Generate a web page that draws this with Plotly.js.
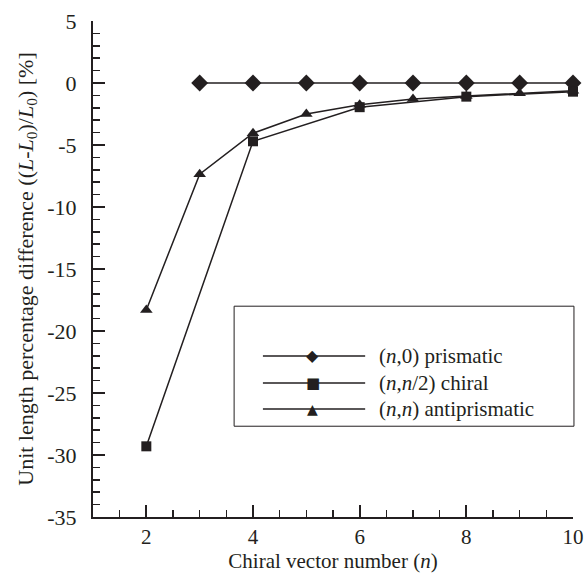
<!DOCTYPE html>
<html>
<head>
<meta charset="utf-8">
<script src="https://cdn.plot.ly/plotly-3.0.1.min.js"></script>
<style>html,body{margin:0;padding:0;background:#fff;}#chart{width:585px;height:573px;}</style>
</head>
<body>
<div id="chart"></div>
<script>
// Data
var prismaticN = [3, 4, 5, 6, 7, 8, 9, 10];
var prismaticY = [0, 0, 0, 0, 0, 0, 0, 0];
var chiralN = [2, 4, 6, 8, 10];
var chiralY = [-29.3, -4.7, -1.95, -1.1, -0.7];
var antiN = [2, 3, 4, 5, 6, 7, 8, 9, 10];
var antiY = [-18.3, -7.35, -4.05, -2.5, -1.75, -1.3, -1.05, -0.82, -0.62];
var seriesNames = ['(<i>n</i>,0) prismatic', '(<i>n</i>,<i>n</i>/2) chiral', '(<i>n</i>,<i>n</i>) antiprismatic'];
var legendGlyphs = ['\u25C6', '\u25A0', '\u25B2'];
var xTickVals = [2, 4, 6, 8, 10];
var xTickText = ['2', '4', '6', '8', '10'];
var yTickVals = [5, 0, -5, -10, -15, -20, -25, -30, -35];
var yTickText = ['5', '0', '-5', '-10', '-15', '-20', '-25', '-30', '-35'];

var font = '"Times New Roman", "Liberation Serif", serif';
var ink = '#231f20';

function tr(x, y, sym, size) {
  return {x: x, y: y, type: 'scatter', mode: 'lines+markers', cliponaxis: false,
    line: {color: ink, width: 1.5}, marker: {symbol: sym, size: size, color: ink},
    showlegend: false, hoverinfo: 'x+y'};
}

var data = [
  tr(prismaticN, prismaticY, 'diamond', 13),
  tr(chiralN, chiralY, 'square', 10),
  tr(antiN, antiY, 'triangle-up', 11)
];

// Manual legend (box, sample lines, glyph markers, labels)
var shapes = [{type: 'rect', xref: 'paper', yref: 'paper', x0: 0.294, x1: 1.002, y0: 0.183, y1: 0.425,
  line: {color: ink, width: 1}, fillcolor: 'rgba(0,0,0,0)'}];
var annotations = [];
var rowY = [0.3246, 0.2702, 0.2177];
var glyphSize = [16, 15, 14];
for (var i = 0; i < 3; i++) {
  shapes.push({type: 'line', xref: 'paper', yref: 'paper', x0: 0.354, x1: 0.567, y0: rowY[i], y1: rowY[i],
    line: {color: ink, width: 1.5}});
  annotations.push({xref: 'paper', yref: 'paper', x: 0.458, y: rowY[i], text: legendGlyphs[i], showarrow: false,
    xanchor: 'center', yanchor: 'middle', font: {family: 'DejaVu Sans', size: glyphSize[i], color: ink}});
  annotations.push({xref: 'paper', yref: 'paper', x: 0.592, y: rowY[i], text: seriesNames[i], showarrow: false,
    xanchor: 'left', yanchor: 'middle', font: {family: font, size: 21, color: ink}});
}

var layout = {
  width: 585, height: 573,
  margin: {l: 93, r: 12, t: 21, b: 56},
  paper_bgcolor: '#fff', plot_bgcolor: '#fff',
  font: {family: font, size: 21, color: ink},
  showlegend: false,
  xaxis: {
    range: [1, 10], tickmode: 'array', tickvals: xTickVals, ticktext: xTickText,
    ticks: 'inside', ticklen: 12, tickwidth: 2, tickcolor: ink,
    showline: true, linecolor: ink, linewidth: 2, showgrid: false, zeroline: false,
    ticklabelstandoff: 0,
    minor: {dtick: 0.5, tick0: 0, ticks: 'inside', ticklen: 7, tickwidth: 1.5, tickcolor: ink, showgrid: false},
    tickfont: {family: font, size: 21, color: ink},
    title: {text: 'Chiral vector number (<i>n</i>)', font: {family: font, size: 21, color: ink}, standoff: 3}
  },
  yaxis: {
    range: [-35, 5], tickmode: 'array', tickvals: yTickVals, ticktext: yTickText,
    ticks: 'inside', ticklen: 12, tickwidth: 2, tickcolor: ink,
    showline: true, linecolor: ink, linewidth: 2, showgrid: false, zeroline: false,
    ticklabelstandoff: 10,
    minor: {dtick: 1, tick0: 0, ticks: 'inside', ticklen: 7, tickwidth: 1.5, tickcolor: ink, showgrid: false},
    tickfont: {family: font, size: 22, color: ink},
    title: {text: 'Unit length percentage difference ((<i>L</i>-<i>L</i><sub>0</sub>)/<i>L</i><sub>0</sub>) [%]',
      font: {family: font, size: 22, color: ink}, standoff: 8}
  },
  shapes: shapes,
  annotations: annotations
};

Plotly.newPlot('chart', data, layout, {displayModeBar: false, staticPlot: true});
</script>
</body>
</html>
